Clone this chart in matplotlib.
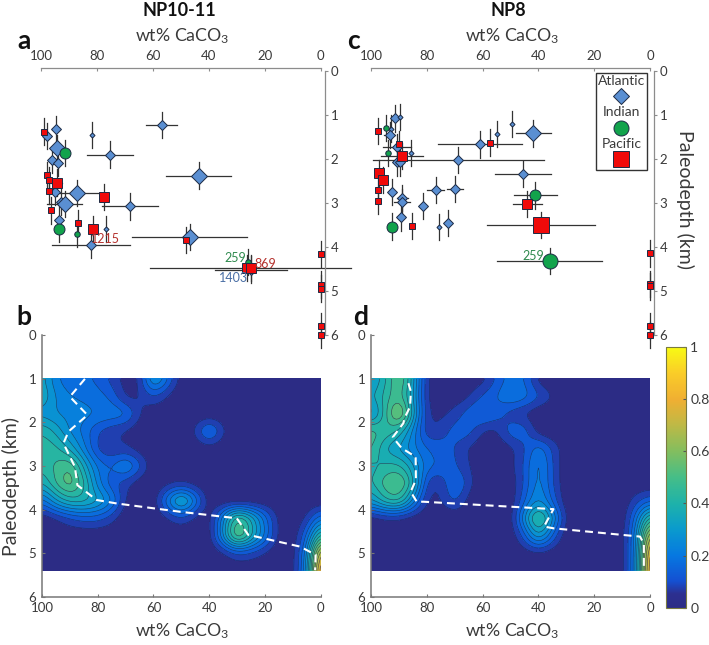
"""NP10-11 and NP8 CaCO3 versus paleodepth: site scatter and density contours."""

import numpy as np
import matplotlib
matplotlib.use("Agg")
import matplotlib.pyplot as plt
from matplotlib.colors import LinearSegmentedColormap
from matplotlib.lines import Line2D
from matplotlib.offsetbox import AnchoredOffsetbox, DrawingArea, TextArea, VPacker

plt.rcParams["font.family"] = ["Lato", "DejaVu Sans"]
plt.rcParams["mathtext.default"] = "regular"

# panel a, NP10-11
a_atl_wt = [56.9, 94.7, 98.1, 81.9, 94.3, 75.4, 43.7, 96.2, 94.0, 95.2, 87.2, 93.0, 91.6, 68.4, 93.8, 77.0, 46.9, 82.3, 25.0]
a_atl_km = [1.23, 1.33, 1.48, 1.45, 1.76, 1.90, 2.38, 2.02, 2.10, 2.76, 2.78, 2.97, 3.03, 3.08, 3.38, 3.60, 3.78, 3.95, 4.52]
a_atl_werr = [5.5, 0, 0, 0, 0, 8.3, 11.5, 0, 0, 0, 8.0, 1, 6.3, 10, 0, 0, 20.5, 14, 13]
a_atl_n = [2, 2, 2, 1, 3, 2, 3, 2, 2, 2, 3, 2, 3, 2, 2, 1, 3, 2, 2]
a_ind_wt = [91.6, 93.8, 87.1, 26.0]
a_ind_km = [1.86, 3.60, 3.70, 4.35]
a_ind_werr = [0, 0, 0, 0]
a_ind_n = [2, 2, 1, 1]
a_pac_wt = [99.0, 98.0, 97.1, 94.5, 97.3, 77.6, 96.5, 86.9, 81.4, 48.3, 26.4, 25.0, 0, 0, 0, 0, 0]
a_pac_km = [1.38, 2.37, 2.49, 2.54, 2.72, 2.87, 3.17, 3.46, 3.59, 3.84, 4.48, 4.48, 4.17, 4.86, 4.95, 5.80, 6.00]
a_pac_werr = [0, 0, 0, 2, 0, 0, 0, 0, 0, 0, 0, 36, 0, 0, 0, 0, 0]
a_pac_n = [1, 1, 1, 2, 1, 2, 1, 1, 2, 1, 2, 2, 1, 1, 1, 1, 1]

# panel c, NP8
c_atl_wt = [91.5, 89.5, 92.8, 93.3, 49.3, 54.7, 41.9, 60.9, 90.6, 85.8, 68.7, 90.6, 89.5, 45.5, 92.5, 88.8, 88.9, 76.8, 69.9, 81.5, 89.1, 72.4, 75.5]
c_atl_km = [1.08, 1.04, 1.31, 1.45, 1.21, 1.43, 1.42, 1.67, 1.73, 1.87, 2.03, 2.08, 2.08, 2.35, 2.75, 2.89, 2.99, 2.71, 2.68, 3.07, 3.33, 3.46, 3.55]
c_atl_werr = [0, 0, 0, 2, 0, 0, 6.3, 15, 5, 0, 30.7, 0, 0, 10, 0, 2, 3, 3, 3, 0, 0, 0, 0]
c_atl_n = [2, 1, 1, 2, 1, 1, 3, 2, 2, 1, 2, 2, 2, 2, 2, 2, 2, 2, 2, 2, 2, 2, 1]
c_ind_wt = [94.6, 93.8, 41.1, 92.5, 36.0]
c_ind_km = [1.30, 1.86, 2.83, 3.54, 4.33]
c_ind_werr = [0, 0, 7.6, 0, 18.8]
c_ind_n = [1, 1, 2, 2, 3]
c_pac_wt = [97.6, 90.0, 57.3, 88.8, 97.1, 95.6, 97.6, 97.6, 44.0, 85.3, 39.1, 0, 0, 0, 0, 0]
c_pac_km = [1.36, 1.66, 1.63, 1.93, 2.33, 2.48, 2.71, 2.95, 3.02, 3.52, 3.50, 4.15, 4.84, 4.90, 5.80, 6.00]
c_pac_werr = [0, 0, 0, 7.6, 0, 0, 0, 0, 5.2, 0, 19.3, 0, 0, 0, 0, 0]
c_pac_n = [1, 1, 1, 2, 2, 2, 1, 1, 2, 1, 3, 1, 1, 1, 1, 1]

depth_err = 0.3

# density grids, columns at heat_wt, rows at heat_km
heat_wt = [100, 95, 90, 85, 80, 75, 70, 65, 60, 55, 50, 45, 40, 35, 30, 25, 20, 15, 10, 5, 0]
heat_km = [1.0, 1.4, 1.8, 2.2, 2.6, 3.0, 3.4, 3.8, 4.2, 4.6, 5.0, 5.4]
heat_b = [
    [.34, .20, .17, .16, .14, .08, .02, .03, .32, .16, .01, 0, 0, 0, 0, 0, 0, 0, 0, 0, 0],
    [.36, .24, .20, .19, .17, .14, .03, .04, .11, .04, 0, 0, 0, 0, 0, 0, 0, 0, 0, 0, 0],
    [.28, .25, .23, .22, .20, .19, .18, .05, 0, 0, 0, 0, 0, 0, 0, 0, 0, 0, 0, 0, 0],
    [.40, .34, .24, .18, .10, .06, .04, .01, 0, 0, 0, .05, .22, .05, 0, 0, 0, 0, 0, 0, 0],
    [.44, .42, .34, .22, .08, .05, .06, .02, 0, 0, 0, 0, .02, 0, 0, 0, 0, 0, 0, 0, 0],
    [.42, .46, .52, .34, .18, .14, .24, .12, 0, 0, 0, 0, 0, 0, 0, 0, 0, 0, 0, 0, 0],
    [.34, .46, .56, .42, .22, .11, .07, .01, 0, .03, .05, .02, 0, 0, 0, 0, 0, 0, 0, 0, 0],
    [.16, .30, .38, .38, .32, .22, .03, 0, 0, .20, .40, .20, 0, 0, 0, 0, 0, 0, 0, 0, 0],
    [0, .04, .09, .12, .12, .07, 0, 0, 0, .04, .09, .03, 0, .24, .50, .36, .18, .02, 0, .05, .20],
    [0, 0, 0, 0, 0, 0, 0, 0, 0, 0, 0, 0, 0, .26, .58, .38, .20, .02, 0, .14, .46],
    [0, 0, 0, 0, 0, 0, 0, 0, 0, 0, 0, 0, 0, .03, .10, .08, .04, 0, .01, .20, .80],
    [0, 0, 0, 0, 0, 0, 0, 0, 0, 0, 0, 0, 0, 0, 0, 0, 0, 0, .01, .22, .92],
]
heat_d = [
    [.28, .38, .54, .34, .03, .01, .01, .01, .02, .11, .18, .16, .02, 0, 0, 0, 0, 0, 0, 0, 0],
    [.33, .42, .50, .32, .03, .01, .01, .04, .11, .15, .21, .18, .11, .05, 0, 0, 0, 0, 0, 0, 0],
    [.24, .42, .64, .34, .04, .03, .07, .13, .18, .13, .07, .04, 0, 0, 0, 0, 0, 0, 0, 0, 0],
    [.48, .44, .39, .24, .05, .07, .13, .13, .04, .03, .14, .14, .01, 0, 0, 0, 0, 0, 0, 0, 0],
    [.48, .34, .29, .21, .15, .13, .10, .04, .01, .01, .03, .09, .20, .09, .01, 0, 0, 0, 0, 0, 0],
    [.38, .41, .42, .32, .16, .15, .11, .05, .01, .01, .03, .10, .25, .10, 0, 0, 0, 0, 0, 0, 0],
    [.38, .49, .54, .39, .07, .04, .19, .07, 0, 0, .01, .10, .25, .10, 0, 0, 0, 0, 0, 0, 0],
    [.28, .40, .44, .24, .03, .04, .13, .02, 0, 0, 0, .14, .28, .14, 0, 0, 0, 0, 0, .08, .14],
    [.01, .04, .04, .01, 0, 0, 0, 0, 0, 0, 0, .26, .50, .28, .02, 0, 0, 0, 0, .17, .46],
    [0, 0, 0, 0, 0, 0, 0, 0, 0, 0, 0, .12, .34, .14, 0, 0, 0, 0, .01, .20, .74],
    [0, 0, 0, 0, 0, 0, 0, 0, 0, 0, 0, .01, .03, .01, 0, 0, 0, 0, .01, .20, .88],
    [0, 0, 0, 0, 0, 0, 0, 0, 0, 0, 0, 0, 0, 0, 0, 0, 0, 0, .01, .20, .92],
]

# dashed lines over the density panels
b_line_wt = [84.6, 90, 83.7, 90.5, 92.3, 88.2, 87.3, 80.4, 73.2, 50.5, 30.1, 26, 7.4, 1.8, 2]
b_line_km = [1.0, 1.41, 1.83, 2.21, 2.48, 3.02, 3.44, 3.78, 3.86, 4.05, 4.2, 4.58, 4.85, 5.04, 5.39]
d_line_wt = [86.6, 85.7, 86, 88, 88.4, 92.2, 89, 84, 83.9, 85.8, 83.6, 81.2, 34.6, 38, 34.6, 3.6, 2.2, 2.2]
d_line_km = [1.1, 1.29, 1.64, 1.9, 2.02, 2.34, 2.59, 2.79, 3.32, 3.59, 3.82, 3.82, 3.99, 4.39, 4.43, 4.62, 4.78, 5.39]

wt_ticks = [100, 80, 60, 40, 20, 0]
km_ticks = [0, 1, 2, 3, 4, 5, 6]
cbar_ticks = [0, 0.2, 0.4, 0.6, 0.8, 1]
cbar_labels = ["0", "0.2", "0.4", "0.6", "0.8", "1"]

W, H = 709, 645
BLUE, GREEN, RED = "#5a8fd2", "#12a34c", "#f00a0a"
GREY = "#8c8c8c"
TXT = "#3a3a3a"
# marker edge length in px per size class
DIAMOND = {1: 3.6, 2: 7.2, 3: 10.8}
CIRCLE = {1: 5.5, 2: 11, 3: 15}
SQUARE = {1: 5.5, 2: 10.5, 3: 15.5}
PX = 0.72

parula = LinearSegmentedColormap.from_list("parula_ish", [
    (0.0, "#2c2c85"), (0.05, "#2c2f90"), (0.1, "#1450d2"), (0.2, "#0678e1"), (0.3, "#0a9bcd"),
    (0.4, "#1eb2aa"), (0.5, "#46be87"), (0.6, "#82be5f"), (0.7, "#beb946"), (0.8, "#f0af32"),
    (0.9, "#facd28"), (1.0, "#f8fa14"),
])


def px_axes(fig, left, top, right, bottom):
    return fig.add_axes([left / W, 1 - bottom / H, (right - left) / W, (bottom - top) / H])


def fig_text(fig, x, y, s, **kw):
    kw.setdefault("ha", "center")
    kw.setdefault("va", "center")
    kw.setdefault("color", TXT)
    fig.text(x / W, 1 - y / H, s, **kw)


def draw_sites(ax, wt, km, werr, n, marker, color, sizes):
    for x, y, e, k in zip(wt, km, werr, n):
        ax.plot([x, x], [y - depth_err, y + depth_err], color="#333333", lw=0.9, clip_on=False, zorder=2)
        if e:
            ax.plot([x - e, x + e], [y, y], color="#333333", lw=0.9, clip_on=False, zorder=2)
        ax.plot(x, y, marker, color=color, ms=sizes[k] * PX, mec="#1c2a44", mew=0.7, clip_on=False, zorder=3)


def scatter_axes(ax):
    ax.set_xlim(100, 0)
    ax.set_ylim(6, 0)
    ax.patch.set_visible(False)
    ax.xaxis.tick_top()
    ax.yaxis.tick_right()
    ax.set_xticks(wt_ticks)
    ax.set_yticks(km_ticks)
    for s in ("left", "bottom"):
        ax.spines[s].set_visible(False)
    ax.spines["top"].set_position(("outward", 2.2))
    ax.spines["right"].set_position(("outward", 3))
    for s in ("top", "right"):
        ax.spines[s].set_color(GREY)
        ax.spines[s].set_linewidth(0.9)
    ax.tick_params(axis="x", direction="in", length=2.5, color=GREY, labelsize=9.5, labelcolor=TXT, pad=4)
    ax.tick_params(axis="y", direction="out", length=2.5, color=GREY, labelsize=9.5, labelcolor=TXT, pad=1.5)


def smooth_grid(z):
    # refine the read grid so the contours come out round
    z = np.array(z, dtype=float)
    xs = np.arange(0, 100.01, 1.0)
    ys = np.arange(1.0, 5.401, 0.05)
    wt = np.array(heat_wt, dtype=float)[::-1]
    tmp = np.array([np.interp(xs, wt, row[::-1]) for row in z])
    fine = np.array([np.interp(ys, heat_km, tmp[:, j]) for j in range(len(xs))]).T
    kernel = np.ones(5) / 5
    for _ in range(2):
        pad = np.pad(fine, ((0, 0), (2, 2)), mode="edge")
        fine = np.array([np.convolve(r, kernel, mode="valid") for r in pad])
        pad = np.pad(fine, ((2, 2), (0, 0)), mode="edge")
        fine = np.array([np.convolve(c, kernel, mode="valid") for c in pad.T]).T
    return xs, ys, np.clip(fine, 0, 1)


def density_axes(ax, z, line_wt, line_km):
    xs, ys, fine = smooth_grid(z)
    levels = np.arange(0, 1.001, 0.05)
    band_colors = [parula(0.0)] + [parula(v + 0.025) for v in levels[1:-1]]
    ax.contourf(xs, ys, fine, levels=levels, colors=band_colors)
    ax.contour(xs, ys, fine, levels=levels[1:], colors="#1d2550", linewidths=0.45, alpha=0.75)
    ax.plot(line_wt, line_km, color="white", lw=1.5, ls=(0, (3.8, 2.4)))
    ax.set_xlim(100, 0)
    ax.set_ylim(6, 0)
    ax.set_xticks(wt_ticks)
    ax.set_yticks(km_ticks)
    for s in ("top", "right"):
        ax.spines[s].set_visible(False)
    for s in ("left", "bottom"):
        ax.spines[s].set_color("#777777")
        ax.spines[s].set_linewidth(1.1)
    ax.tick_params(direction="in", length=2.5, color="#777777", labelsize=9.5, labelcolor=TXT, pad=4)


def site_legend(ax):
    rows = [("Atlantic", "D", BLUE, 10.8), ("Indian", "o", GREEN, 15), ("Pacific", "s", RED, 15.5)]
    items = []
    for name, marker, color, size in rows:
        items.append(TextArea(name, textprops=dict(color=TXT, fontsize=10)))
        box = DrawingArea(20, 13, 0, 0)
        box.add_artist(Line2D([10], [6.5], marker=marker, color=color, ms=size * PX,
                              mec="#1c2a44", mew=0.7, ls="none"))
        items.append(box)
    pack = VPacker(children=items, align="center", pad=0, sep=0.5)
    anchored = AnchoredOffsetbox(loc="upper right", child=pack, pad=0.12, borderpad=0,
                                 frameon=True, bbox_to_anchor=(0.988, 0.992),
                                 bbox_transform=ax.transAxes)
    anchored.patch.set_edgecolor("#333333")
    anchored.patch.set_linewidth(1.0)
    anchored.patch.set_boxstyle("square,pad=0")
    ax.add_artist(anchored)


fig = plt.figure(figsize=(W / 100, H / 100), dpi=100)

# density panels first so the scatter error bars sit on top
ax_b = px_axes(fig, 42, 335.3, 320.7, 596.7)
density_axes(ax_b, heat_b, b_line_wt, b_line_km)
ax_d = px_axes(fig, 371, 335.3, 650, 596.7)
density_axes(ax_d, heat_d, d_line_wt, d_line_km)

ax_a = px_axes(fig, 41.3, 71, 320.7, 334.7)
scatter_axes(ax_a)
draw_sites(ax_a, a_atl_wt, a_atl_km, a_atl_werr, a_atl_n, "D", BLUE, DIAMOND)
draw_sites(ax_a, a_ind_wt, a_ind_km, a_ind_werr, a_ind_n, "o", GREEN, CIRCLE)
draw_sites(ax_a, a_pac_wt, a_pac_km, a_pac_werr, a_pac_n, "s", RED, SQUARE)
ax_a.text(77.2, 3.83, "1215", color="#b5322e", fontsize=9, ha="center", va="center", zorder=4)
ax_a.text(30.6, 4.26, "259", color="#2f8a4e", fontsize=9, ha="center", va="center", zorder=4)
ax_a.text(19.9, 4.39, "869", color="#b5322e", fontsize=9, ha="center", va="center", zorder=4)
ax_a.text(31.3, 4.71, "1403", color="#4a6fa5", fontsize=9, ha="center", va="center", zorder=4)

ax_c = px_axes(fig, 371, 71, 650, 334.7)
scatter_axes(ax_c)
draw_sites(ax_c, c_atl_wt, c_atl_km, c_atl_werr, c_atl_n, "D", BLUE, DIAMOND)
draw_sites(ax_c, c_ind_wt, c_ind_km, c_ind_werr, c_ind_n, "o", GREEN, CIRCLE)
draw_sites(ax_c, c_pac_wt, c_pac_km, c_pac_werr, c_pac_n, "s", RED, SQUARE)
ax_c.text(42, 4.2, "259", color="#2f8a4e", fontsize=9, ha="center", va="center", zorder=4)
site_legend(ax_c)

cax = px_axes(fig, 665.7, 346.7, 686, 607.7)
mappable = plt.cm.ScalarMappable(norm=plt.Normalize(0, 1), cmap=parula)
cbar = fig.colorbar(mappable, cax=cax)
cbar.set_ticks(cbar_ticks, labels=cbar_labels)
cbar.ax.tick_params(direction="in", length=2, color="#555555", labelsize=10, labelcolor=TXT, pad=3)
cbar.outline.set_edgecolor("#7a7a40")
cbar.outline.set_linewidth(0.8)

fig_text(fig, 179, 11, "NP10-11", fontsize=13, fontweight="bold", color="#111111")
fig_text(fig, 508, 11, "NP8", fontsize=13, fontweight="bold", color="#111111")
for x, y in [(182, 36), (512, 36), (182, 631), (512, 631)]:
    fig_text(fig, x, y, "wt% CaCO$_3$", fontsize=12.8)
for x, y, s in [(24, 41, "a"), (24, 317, "b"), (353, 41, "c"), (361, 317, "d")]:
    fig_text(fig, x, y, s, fontsize=19, fontweight="bold", color="#111111")
fig_text(fig, 11, 487, "Paleodepth (km)", fontsize=14, rotation=90)
fig_text(fig, 685, 200, "Paleodepth (km)", fontsize=14, rotation=270)

fig.savefig("out.png", dpi=100)
